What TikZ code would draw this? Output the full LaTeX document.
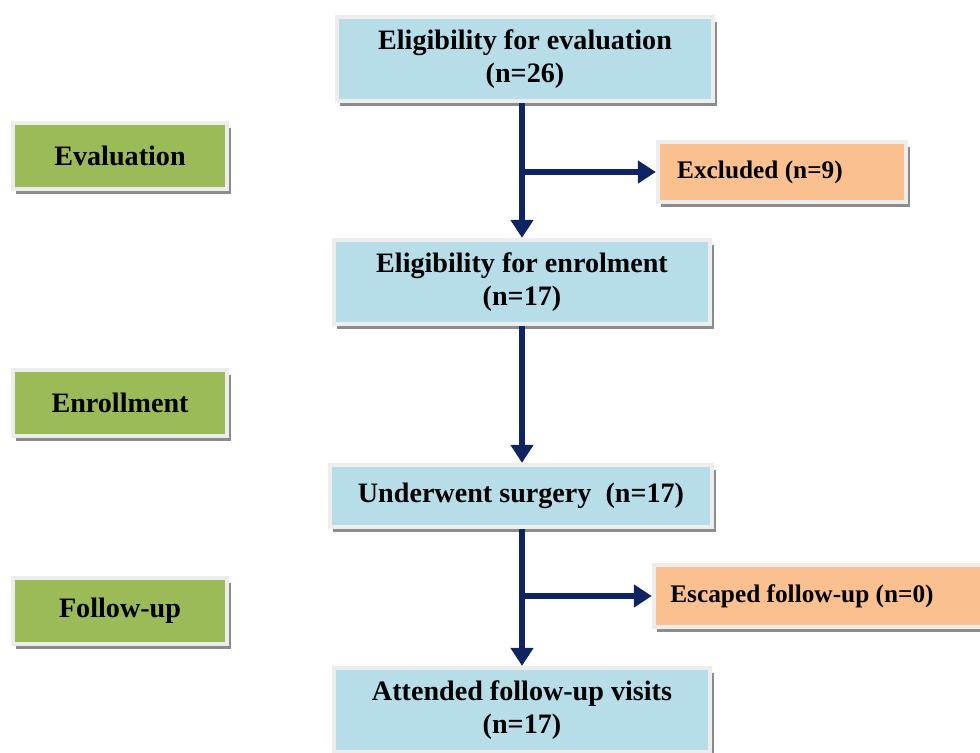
\documentclass[tikz,border=0pt]{standalone}
\usepackage{fontspec}
\setmainfont{Liberation Serif}
\usepackage{xcolor}
\usepackage{tikz}
\usetikzlibrary{arrows.meta,positioning,shadows}
\definecolor{stepblue}{HTML}{B7DDE8}
\definecolor{phasegreen}{HTML}{9BBB59}
\definecolor{outorange}{HTML}{FAC090}
\definecolor{arrnavy}{HTML}{0E2463}

\begin{document}
\begin{tikzpicture}[x=0.025cm,y=-0.025cm,font=\bfseries\fontsize{20}{23}\selectfont]
        \tikzstyle{box}=[draw=black!7,line width=3pt,align=center,inner sep=0pt,
          drop shadow={shadow xshift=2.5pt,shadow yshift=-3.5pt,fill=black!45,opacity=1}]
        \tikzstyle{stage}=[box,fill=stepblue,minimum width=9.4cm]
        \tikzstyle{phase}=[box,fill=phasegreen,minimum width=5.35cm,minimum height=1.65cm]
        \tikzstyle{lost}=[box,fill=outorange,font=\bfseries\fontsize{18}{20}\selectfont]
        \tikzstyle{arr}=[draw=arrnavy,line width=4pt,-{Triangle[length=0.45cm,width=0.55cm]}]
        \useasboundingbox (0,0) rectangle (980,753);
        \node[stage,minimum height=2.1cm] (ev) at (525,59) {Eligibility for evaluation\\(n=26)};
        \node[stage,minimum height=2.1cm] (en) at (522,282) {Eligibility for enrolment\\(n=17)};
        \node[stage,minimum height=1.55cm,minimum width=9.55cm] (su) at (521,496) {Underwent surgery\ \ (n=17)};
        \node[stage,minimum height=2.1cm] (fu) at (522,710) {Attended follow-up visits\\(n=17)};
        % phases on the left
        \node[phase] (p1) at (120,156) {Evaluation};
        \node[phase] (p2) at (120,403) {Enrollment};
        \node[phase] (p3) at (120,611) {Follow-up};
        % drop-outs
        \node[lost,minimum width=6.2cm,minimum height=1.5cm] (ex) at (782,172) {Excluded (n=9)\hspace{1.1cm}};
        \node[lost,minimum width=8.3cm,minimum height=1.55cm] (es) at (820,596) {Escaped follow-up (n=0)\hspace{0.9cm}};
        % flow
        \draw[arr] (en.north |- ev.south) -- (en.north);
        \draw[arr] (en.north |- ex.west) -- (ex.west);
        \draw[arr] (en.south) -- (en.south |- su.north);
        \draw[arr] (en.south |- su.south) -- (en.south |- fu.north);
        \draw[arr] (en.south |- es.west) -- (es.west);
      \end{tikzpicture}
\end{document}
